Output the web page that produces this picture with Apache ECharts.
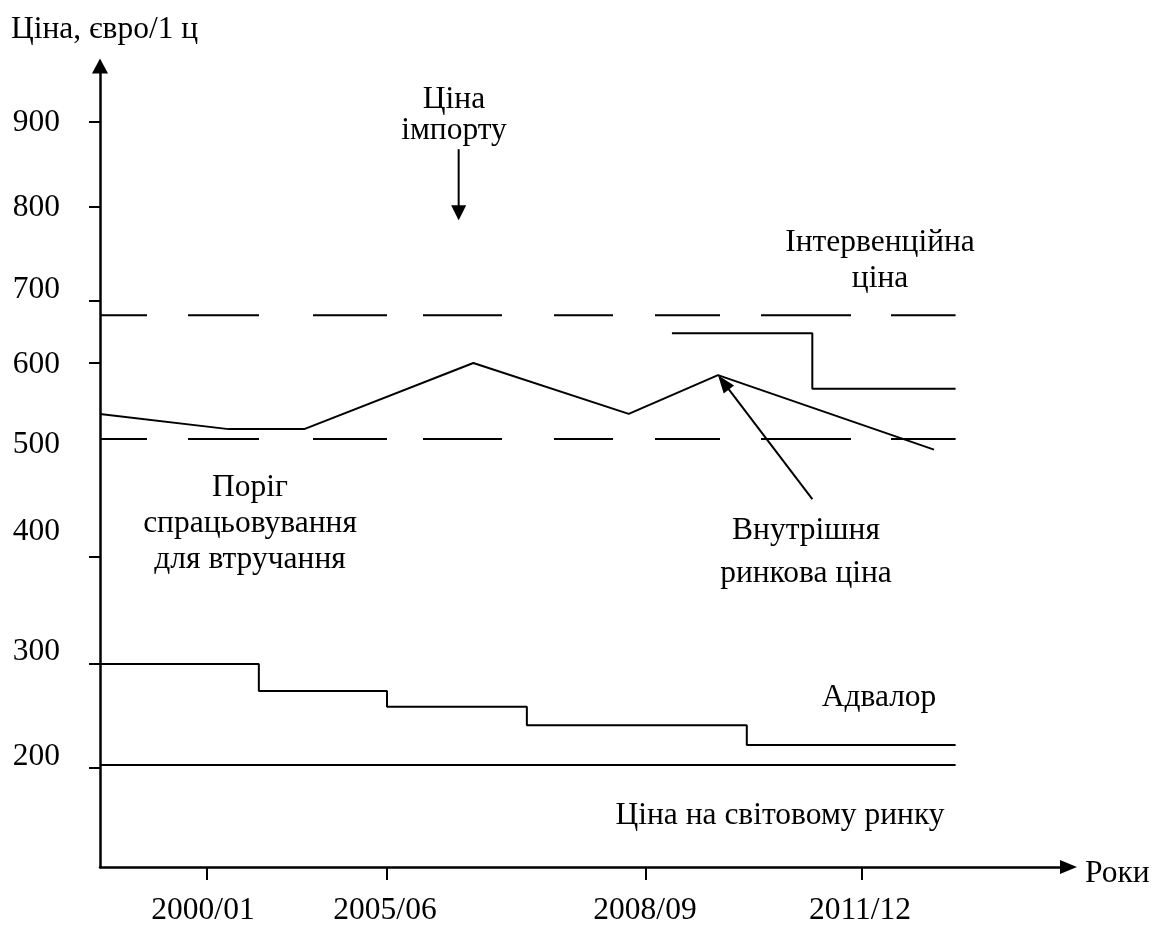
<!DOCTYPE html>
<html><head><meta charset="utf-8">
<script src="https://cdn.jsdelivr.net/npm/echarts@6/dist/echarts.min.js"></script>
<style>html,body{margin:0;padding:0;background:#fff}#c{width:1168px;height:925px}</style>
</head><body><div id="c"></div>
<script>
// ---------- data ----------
const xTickLabels = ['2000/01', '2005/06', '2008/09', '2011/12'];
const xTickYears = [2000, 2005, 2008, 2011];
const yTickValues = [200, 300, 400, 500, 600, 700, 800, 900];
const yTickMarked = [200, 300, 400, 600, 700, 800, 900];

const spanYears = [1997, 2012.3];

const domesticYears = [1997, 2000.6, 2002.7, 2006.0, 2007.8, 2009.0, 2012.0];
const domesticPrice = [533, 513, 513, 600, 533, 584, 491];

const advaloremYears = [1997, 2001.44, 2005, 2006.62, 2009.4, 2012.3];
const advaloremPrice = [300, 274, 259, 241, 222, 222];

const importYears = [2008.36, 2010.31, 2012.3];
const importPrice = [648, 566, 566];

const interventionPrice = 677;
const thresholdPrice = 500;
const worldPrice = 203;

const importArrowYears = [2005.83, 2005.83];
const importArrowPrice = [868, 786];
const domesticArrowStart = [2010.31, 449];

// ---------- schematic (non-linear) axis scales of the drawing ----------
const X_SCALE = { years: [1997, 2000, 2005, 2008, 2011, 2014], units: [0, 107, 287, 546, 762, 978] };
const Y_SCALE = { prices: [100, 200, 300, 400, 500, 600, 700, 800, 900, 1000], units: [-5, 99, 203, 310, 428, 504, 566, 660, 745, 830] };
const X_LABEL_NUDGE = [-4, -2, -1, -2];
const Y_LABEL_NUDGE = [11, 12, 25, -6, -1.5, 11, -1, -1];
const DASH = [47, 41, 71, 54, 74, 36, 79, 52, 59, 42, 65, 41, 90, 40, 65, 200];

function interp(v, xs, ys) {
  for (let i = 1; i < xs.length; i++) {
    if (v <= xs[i] || i === xs.length - 1) {
      const t = (v - xs[i - 1]) / (xs[i] - xs[i - 1]);
      return ys[i - 1] + t * (ys[i] - ys[i - 1]);
    }
  }
}
const X = yr => interp(yr, X_SCALE.years, X_SCALE.units);
const Y = pr => interp(pr, Y_SCALE.prices, Y_SCALE.units);
const pts = (xs, ys) => xs.map((x, i) => [X(x), Y(ys[i])]);

const FONT = '"Liberation Serif", "Times New Roman", serif';
const FS = 31.5;
const black = '#000';

const xLabelPos = xTickYears.map((y, i) => X(y) + X_LABEL_NUDGE[i]);
const yLabelPos = yTickValues.map((v, i) => Y(v) + Y_LABEL_NUDGE[i]);
function nearest(arr, v) {
  let b = 0;
  arr.forEach((p, i) => { if (Math.abs(p - v) < Math.abs(arr[b] - v)) b = i; });
  return b;
}

const lineBase = { type: 'line', showSymbol: false, symbol: 'none', silent: true, animation: false, clip: false };

const chart = echarts.init(document.getElementById('c'), null, { renderer: 'canvas' });
chart.setOption({
  backgroundColor: '#fff',
  animation: false,
  grid: { left: 100, top: 66, width: 968.5, height: 801, containLabel: false, outerBoundsMode: 'none' },
  xAxis: {
    type: 'value', min: 0, max: 968.5,
    axisLine: { show: true, onZero: false, symbol: ['none', 'triangle'], symbolSize: [14, 17], lineStyle: { color: black, width: 2.5 } },
    axisTick: { show: true, inside: false, length: 13, lineStyle: { color: black, width: 2 }, customValues: xTickYears.map(X) },
    axisLabel: {
      show: true, customValues: xLabelPos, margin: 28, color: black, fontFamily: FONT, fontSize: FS,
      formatter: v => xTickLabels[nearest(xLabelPos, v)]
    },
    splitLine: { show: false }
  },
  yAxis: {
    type: 'value', min: 0, max: 801,
    axisLine: { show: true, onZero: false, symbol: ['none', 'triangle'], symbolSize: [16, 15], lineStyle: { color: black, width: 2.5 } },
    axisTick: { show: true, inside: false, length: 11, lineStyle: { color: black, width: 2 }, customValues: yTickMarked.map(Y) },
    axisLabel: {
      show: true, customValues: yLabelPos, margin: 40, color: black, fontFamily: FONT, fontSize: FS,
      formatter: v => String(yTickValues[nearest(yLabelPos, v)])
    },
    splitLine: { show: false }
  },
  series: [
    Object.assign({}, lineBase, { name: 'Ціна на світовому ринку', data: pts(spanYears, [worldPrice, worldPrice]), lineStyle: { color: black, width: 2 } }),
    Object.assign({}, lineBase, { name: 'Адвалор', step: 'end', data: pts(advaloremYears, advaloremPrice), lineStyle: { color: black, width: 2 } }),
    Object.assign({}, lineBase, { name: 'Поріг спрацьовування для втручання', data: pts(spanYears, [thresholdPrice, thresholdPrice]), lineStyle: { color: black, width: 2, type: DASH } }),
    Object.assign({}, lineBase, { name: 'Інтервенційна ціна', data: pts(spanYears, [interventionPrice, interventionPrice]), lineStyle: { color: black, width: 2, type: DASH } }),
    Object.assign({}, lineBase, { name: 'Ціна імпорту', step: 'end', data: pts(importYears, importPrice), lineStyle: { color: black, width: 2 } }),
    Object.assign({}, lineBase, { name: 'Внутрішня ринкова ціна', data: pts(domesticYears, domesticPrice), lineStyle: { color: black, width: 2 } })
  ]
});

// ---------- annotations ----------
function arrow(fromData, toData, w, h) {
  const a = chart.convertToPixel({ gridIndex: 0 }, [X(fromData[0]), Y(fromData[1])]);
  const b = chart.convertToPixel({ gridIndex: 0 }, [X(toData[0]), Y(toData[1])]);
  const dx = b[0] - a[0], dy = b[1] - a[1];
  const L = Math.sqrt(dx * dx + dy * dy);
  const ux = dx / L, uy = dy / L, px = -uy, py = ux;
  const bx = b[0] - ux * h, by = b[1] - uy * h;
  return [
    { type: 'line', silent: true, shape: { x1: a[0], y1: a[1], x2: bx + ux * 2, y2: by + uy * 2 }, style: { stroke: black, lineWidth: 2 } },
    { type: 'polygon', silent: true, shape: { points: [[b[0], b[1]], [bx + px * w / 2, by + py * w / 2], [bx - px * w / 2, by - py * w / 2]] }, style: { fill: black } }
  ];
}
function txt(text, x, y, opts) {
  return {
    type: 'text', silent: true, x: x, y: y,
    style: Object.assign({ text: text, fill: black, font: FS + 'px ' + FONT, align: 'center', verticalAlign: 'middle' }, opts || {})
  };
}
const peakIdx = 5;
chart.setOption({
  graphic: [
    txt('Ціна, євро/1 ц', 11, 30, { align: 'left' }),
    txt('Роки', 1085, 874, { align: 'left' }),
    txt('Ціна\nімпорту', 454, 115, { lineHeight: 31 }),
    txt('Інтервенційна\nціна', 880, 261, { lineHeight: 36 }),
    txt('Поріг\nспрацьовування\nдля втручання', 250, 524, { lineHeight: 36 }),
    txt('Внутрішня\nринкова ціна', 806, 552, { lineHeight: 43 }),
    txt('Адвалор', 879, 698),
    txt('Ціна на світовому ринку', 780, 816)
  ].concat(
    arrow([importArrowYears[0], importArrowPrice[0]], [importArrowYears[1], importArrowPrice[1]], 15, 15),
    arrow(domesticArrowStart, [domesticYears[peakIdx], domesticPrice[peakIdx]], 13, 18)
  )
});
</script>
</body></html>
